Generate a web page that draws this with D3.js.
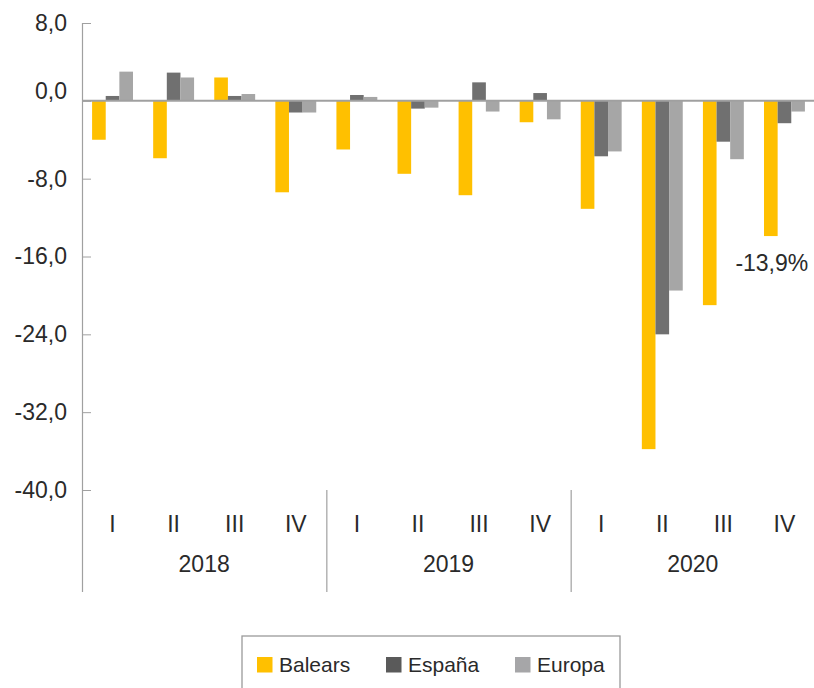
<!DOCTYPE html>
<html>
<head>
<meta charset="utf-8">
<script src="https://cdn.jsdelivr.net/npm/d3@7"></script>
<style>
  html, body { margin: 0; padding: 0; background: #fff; }
  svg { display: block; font-family: "Liberation Sans", Arial, sans-serif; }
</style>
</head>
<body>
<svg id="chart" width="814" height="688"></svg>
<script>
// Quarterly change (%) by territory
const years = ["2018", "2019", "2020"];
const quarters = ["I", "II", "III", "IV"];
const series = ["Balears", "España", "Europa"];
const balears = [-4.0, -5.9, 2.4, -9.4, -5.0, -7.5, -9.7, -2.2, -11.1, -35.8, -21.0, -13.9];
const espana  = [0.5, 2.9, 0.5, -1.2, 0.6, -0.8, 1.9, 0.8, -5.7, -24.0, -4.2, -2.3];
const europa  = [3.0, 2.4, 0.7, -1.2, 0.4, -0.7, -1.1, -1.9, -5.2, -19.5, -6.0, -1.1];
const yTicks = [-40, -32, -24, -16, -8, 0, 8];
const labelledPoint = { series: "Balears", index: 11 };

const barColors = { "Balears": "#ffc000", "España": "#707070", "Europa": "#a6a6a6" };
const legendColors = { "Balears": "#ffc000", "España": "#5a5a5a", "Europa": "#a6a6a8" };
const textColor = "#2a2a2a";
const axisColor = "#a0a0a0";

const values = { "Balears": balears, "España": espana, "Europa": europa };
const periods = [];
years.forEach(yr => quarters.forEach(q => periods.push(yr + "-" + q)));

const locale = d3.formatLocale({ decimal: ",", thousands: ".", grouping: [3], currency: ["", "€"], minus: "-" });
const fmt = locale.format(".1f");

const svg = d3.select("#chart");
const plotLeft = 82, plotRight = 815, plotTop = 23, plotBottom = 490, catBottom = 592;

const y = d3.scaleLinear().domain([-40, 8]).range([plotBottom, plotTop]);
const x0 = d3.scaleBand().domain(periods).range([plotLeft, plotRight]).padding(0);
const x1 = d3.scaleBand().domain(series).range([0, x0.bandwidth()]).paddingInner(0).paddingOuter(0.74);
const xYear = d3.scaleBand().domain(years).range([plotLeft, plotRight]).padding(0);

// bars
const groups = svg.append("g").selectAll("g")
  .data(periods)
  .join("g")
  .attr("transform", d => `translate(${x0(d)},0)`);

groups.selectAll("rect")
  .data((p, i) => series.map(s => ({ s, v: values[s][i] })))
  .join("rect")
  .attr("x", d => x1(d.s))
  .attr("width", x1.bandwidth())
  .attr("y", d => y(Math.max(0, d.v)))
  .attr("height", d => Math.abs(y(d.v) - y(0)))
  .attr("fill", d => barColors[d.s]);

// y axis
const yAxis = d3.axisLeft(y)
  .tickValues(yTicks)
  .tickSize(-9)
  .tickPadding(15)
  .tickFormat(fmt);

const ya = svg.append("g")
  .attr("transform", `translate(${plotLeft},0)`)
  .call(yAxis);
ya.select(".domain").remove();
ya.selectAll(".tick line").attr("stroke", axisColor).attr("stroke-width", 1);
ya.selectAll(".tick text")
  .attr("fill", textColor)
  .attr("font-size", 23)
  .attr("font-family", "Liberation Sans, Arial, sans-serif")
  .attr("dy", d => d === 0 ? "-0.12em" : "0.32em");

// vertical axis line, running down through the category area
svg.append("line")
  .attr("x1", plotLeft + 0.5).attr("x2", plotLeft + 0.5)
  .attr("y1", y(8)).attr("y2", catBottom)
  .attr("stroke", axisColor).attr("stroke-width", 1.2);

// year separators
svg.append("g").selectAll("line")
  .data(years.slice(1).concat(["end"]))
  .join("line")
  .attr("x1", d => (d === "end" ? plotRight : xYear(d)) + 0.5)
  .attr("x2", d => (d === "end" ? plotRight : xYear(d)) + 0.5)
  .attr("y1", y(-40)).attr("y2", catBottom)
  .attr("stroke", axisColor).attr("stroke-width", 1.2);

// zero line
svg.append("line")
  .attr("x1", plotLeft).attr("x2", plotRight)
  .attr("y1", y(0)).attr("y2", y(0))
  .attr("stroke", axisColor).attr("stroke-width", 2);

// quarter labels
svg.append("g").selectAll("text")
  .data(periods)
  .join("text")
  .attr("x", d => x0(d) + x0.bandwidth() / 2)
  .attr("y", 532)
  .attr("text-anchor", "middle")
  .attr("font-size", 23)
  .attr("fill", textColor)
  .text(d => d.split("-")[1]);

// year labels
svg.append("g").selectAll("text")
  .data(years)
  .join("text")
  .attr("x", d => xYear(d) + xYear.bandwidth() / 2)
  .attr("y", 572)
  .attr("text-anchor", "middle")
  .attr("font-size", 23)
  .attr("fill", textColor)
  .text(d => d);

// value label on the last Balears bar
const lv = values[labelledPoint.series][labelledPoint.index];
svg.append("text")
  .attr("x", x0(periods[labelledPoint.index]) + x1(labelledPoint.series) + x1.bandwidth() / 2 + 1)
  .attr("y", y(lv) + 35)
  .attr("text-anchor", "middle")
  .attr("font-size", 23)
  .attr("fill", textColor)
  .text(fmt(lv) + "%");

// legend
const legend = svg.append("g");
legend.append("rect")
  .attr("x", 242).attr("y", 636)
  .attr("width", 378).attr("height", 70)
  .attr("fill", "none")
  .attr("stroke", "#9a9a9a").attr("stroke-width", 1.3);

const legendX = { "Balears": 257, "España": 386, "Europa": 515 };
const items = legend.selectAll("g.item")
  .data(series)
  .join("g")
  .attr("class", "item")
  .attr("transform", d => `translate(${legendX[d]},657)`);
items.append("rect")
  .attr("width", 15.5).attr("height", 15.5)
  .attr("fill", d => legendColors[d]);
items.append("text")
  .attr("x", 22).attr("y", 15)
  .attr("font-size", 21)
  .attr("fill", textColor)
  .text(d => d);
</script>
</body>
</html>
